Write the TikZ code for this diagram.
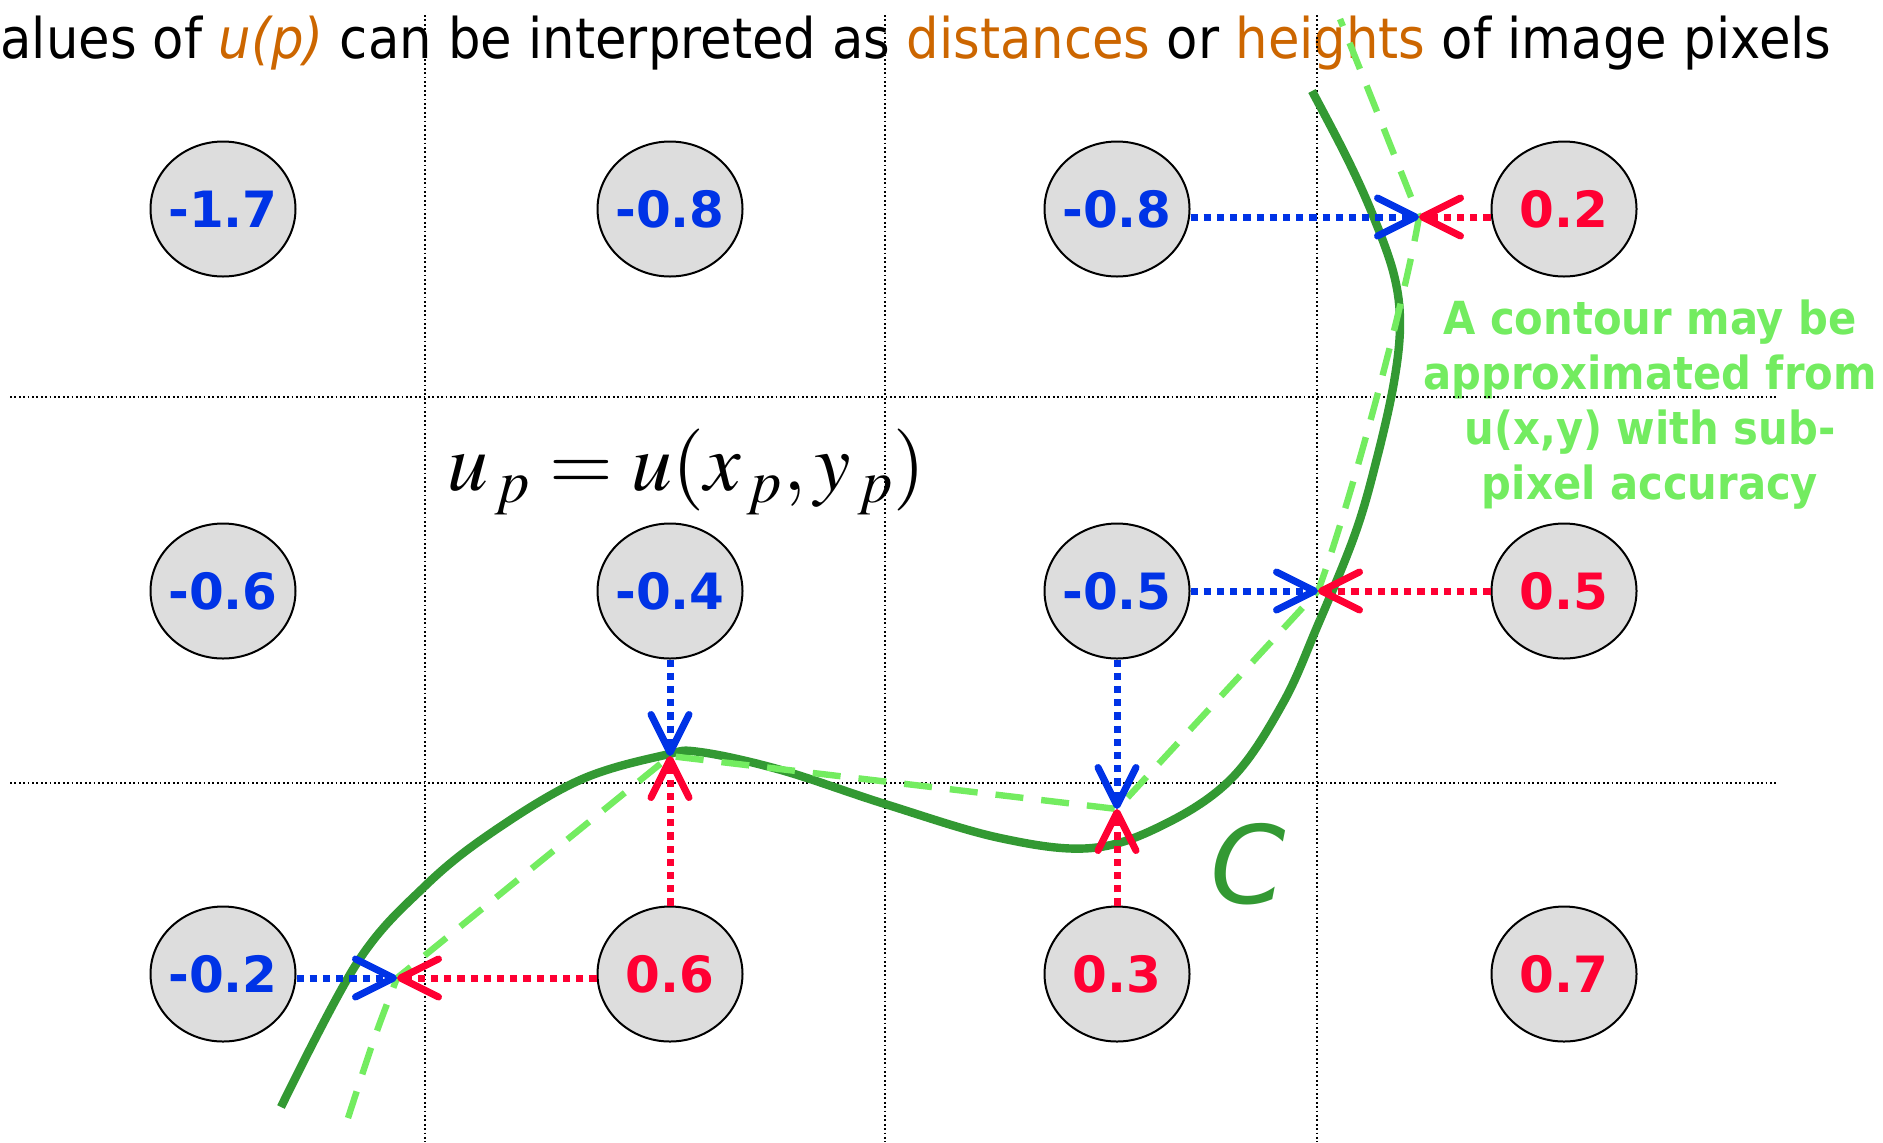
\documentclass[tikz,border=0pt]{standalone}
\usepackage{mathptmx}
\usepackage[no-math]{fontspec}
\setmainfont{DejaVu Sans}
\newfontfamily\tahoma{DejaVu Sans}[FakeStretch=0.915]
\usetikzlibrary{arrows.meta,shapes.geometric}
\definecolor{valblue}{RGB}{0,51,230}
\definecolor{valred}{RGB}{255,0,51}
\definecolor{curvegreen}{RGB}{51,153,51}
\definecolor{approxgreen}{RGB}{115,236,96}
\definecolor{ochre}{RGB}{204,102,0}
\definecolor{pixgray}{RGB}{221,221,221}
\tikzset{
  pix/.style={ellipse, draw=black, line width=1pt, fill=pixgray, minimum width=72.5pt,
    minimum height=67.5pt, inner sep=0pt, font=\fontsize{25}{25}\selectfont\bfseries},
  negpix/.style={pix, text=valblue},
  pospix/.style={pix, text=valred},
  gridline/.style={line width=0.8pt, dash pattern=on 0.9pt off 1.3pt},
  probe/.style={line width=3.5pt, dash pattern=on 3.6pt off 3pt,
    -{Straight Barb[length=19pt,width=19pt,round]}},
  contour/.style={curvegreen, line width=4.2pt},
  approx/.style={approxgreen, line width=3.2pt, dash pattern=on 14pt off 9pt}
}

\begin{document}
\begin{tikzpicture}[x=0.5pt, y=-0.5pt]
  \useasboundingbox (0,0) rectangle (1883,1142);
  % texts
  \node[anchor=base west, inner sep=0pt, font=\tahoma\fontsize{28}{28}\selectfont] (title) at (0,58)
    {alues of \textcolor{ochre}{\itshape u(p)} can be interpreted as \textcolor{ochre}{distances} or \textcolor{ochre}{heights} of image pixels};
  \node[align=center, inner sep=0pt, text=approxgreen, font=\tahoma\bfseries\fontsize{22.8}{27.5}\selectfont] (note) at (1650,405)
    {A contour may be\\approximated from\\u(x,y) with sub-\\pixel accuracy};
  \node[anchor=base west, inner sep=0pt, font=\fontsize{41}{41}\selectfont] (eq) at (447,490)
    {$u_{\,p} = u(x_{\,p}, y_{\,p})$};
  % pixel grid
  \foreach \x in {425,885,1317} \draw[gridline] (\x,15) -- (\x,1142);
  \foreach \y in {397,783} \draw[gridline] (10,\y) -- (1777,\y);
  % pixel values
  \foreach \name/\x/\y/\val/\sty in {n11/223/209/-1.7/negpix, n12/670/209/-0.8/negpix, n13/1117/209/-0.8/negpix, n14/1564/209/0.2/pospix,
      n21/223/591/-0.6/negpix, n22/670/591/-0.4/negpix, n23/1117/591/-0.5/negpix, n24/1564/591/0.5/pospix,
      n31/223/974/-0.2/negpix, n32/670/974/0.6/pospix, n33/1117/974/0.3/pospix, n34/1564/974/0.7/pospix}
    \node[\sty] (\name) at (\x,\y) {\makebox[0pt]{\val}};
  % zero crossings
  \coordinate (m1) at (397,978);
  \coordinate (m2) at (670,756);
  \coordinate (m3) at (1117,809);
  \coordinate (m4) at (1318,591);
  \coordinate (m5) at (1419,217);
  % contour C and its approximation
  \draw[contour] plot[smooth, tension=0.6] coordinates {(281,1107) (357,963) (424,887) (491,833) (580,780) (665,755)
    (700,752) (781,770) (885,804) (1000,838) (1092,848) (1167,823) (1233,777) (1283,703) (1317,627) (1355,534)
    (1377,458) (1394,382) (1400,324) (1394,275) (1374,218) (1348,160) (1312,91)};
  \draw[approx] (348,1118) .. controls (375,1035) .. (m1) -- (m2) -- (m3) -- (m4)
    .. controls (1350,505) and (1405,300) .. (m5) -- (1340,19);
  % interpolation arrows
  \draw[probe, valblue] (n31.east |- m1) -- (m1);
  \draw[probe, valred] (n32.west |- m1) -- (m1);
  \draw[probe, valblue] (n22.south) -- (m2);
  \draw[probe, valred] (n32.north) -- (m2);
  \draw[probe, valblue] (n23.south) -- (m3);
  \draw[probe, valred] (n33.north) -- (m3);
  \draw[probe, valblue] (n23.east) -- (m4);
  \draw[probe, valred] (n24.west) -- (m4);
  \draw[probe, valblue] (n13.east |- m5) -- (m5);
  \draw[probe, valred] (n14.west |- m5) -- (m5);
  \node[anchor=base west, inner sep=0pt, text=curvegreen, font=\itshape\fontsize{54}{54}\selectfont] (clabel) at (1210,903) {C};
\end{tikzpicture}
\end{document}
